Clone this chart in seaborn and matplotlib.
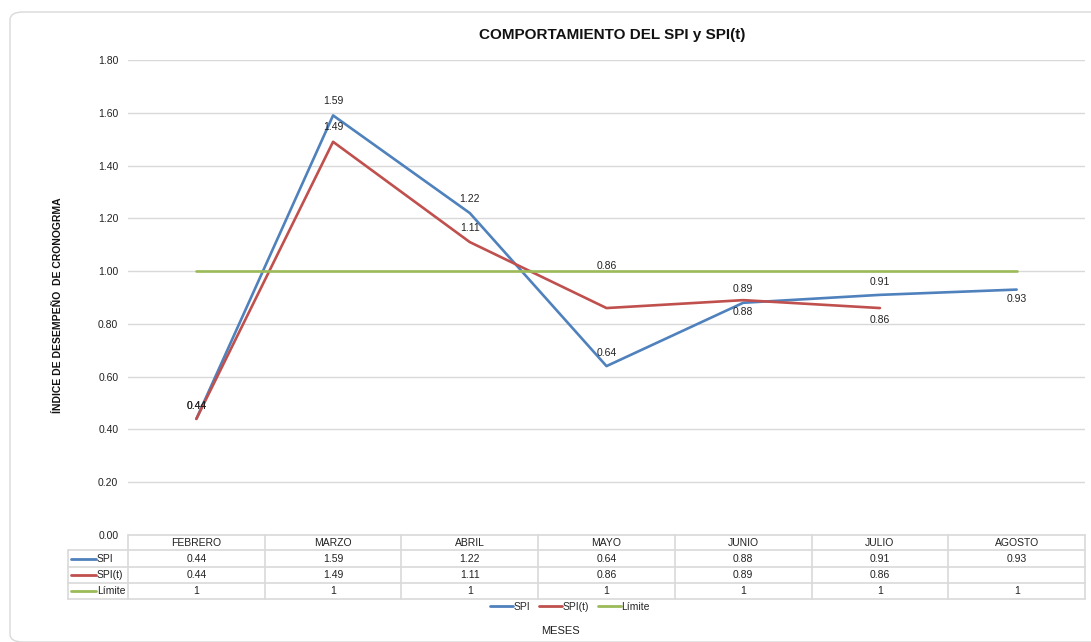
import pandas as pd
import matplotlib
matplotlib.use("Agg")
import matplotlib.pyplot as plt
from matplotlib.patches import FancyBboxPatch
from matplotlib.lines import Line2D
import seaborn as sns
import numpy as np

meses = ["FEBRERO", "MARZO", "ABRIL", "MAYO", "JUNIO", "JULIO", "AGOSTO"]
spi = [0.44, 1.59, 1.22, 0.64, 0.88, 0.91, 0.93]
spi_t = [0.44, 1.49, 1.11, 0.86, 0.89, 0.86, np.nan]
limite = [1, 1, 1, 1, 1, 1, 1]

series = ["SPI", "SPI(t)", "Límite"]
colores = {"SPI": "#4f81bd", "SPI(t)": "#c0504d", "Límite": "#9bbb59"}

# label offsets in pixels (dy) for each data label
off_spi = [13, 14, 14, 13, -9, 13, -9]
off_spit = [13, 15, 14, 42, 11, -12, 0]

df = pd.DataFrame({"mes": meses, "SPI": spi, "SPI(t)": spi_t, "Límite": limite})
largo = df.melt(id_vars="mes", var_name="serie", value_name="valor").dropna()

sns.set_style("white")
plt.rcParams["font.family"] = ["Liberation Sans", "DejaVu Sans"]

W, H = 1091, 642
fig = plt.figure(figsize=(W / 100, H / 100), dpi=100)

# outer rounded border
fig.patches.append(FancyBboxPatch((10 / W, 0), 1.2, (H - 12) / H, boxstyle="round,pad=0,rounding_size=0.012",
                                  transform=fig.transFigure, facecolor="white", edgecolor="#d9d9d9", lw=1, zorder=-1))

x0, x1, ytop, ybot = 128, 1085, 60, 535
ax = fig.add_axes([x0 / W, 1 - ybot / H, (x1 - x0) / W, (ybot - ytop) / H])
ax.patch.set_alpha(0)

sns.lineplot(data=largo, x="mes", y="valor", hue="serie", palette=colores, hue_order=series,
             linewidth=1.9, sort=False, ax=ax, legend=False)

ax.set_xlim(-0.5, 6.5)
ax.set_ylim(0, 1.8)
ax.set_yticks(np.arange(0, 1.81, 0.2))
ax.set_yticklabels([f"{v:.2f}" for v in np.arange(0, 1.81, 0.2)], fontsize=7.5, color="#222222")
ax.set_xticks([])
ax.set_xlabel("")
ax.set_ylabel("")
ax.tick_params(axis="y", length=0, pad=7)
ax.yaxis.grid(True, color="#d9d9d9", lw=1)
for s in ax.spines.values():
    s.set_visible(False)

for i, v in enumerate(spi):
    ax.annotate(f"{v:.2f}", (i, v), xytext=(0, off_spi[i]), textcoords="offset pixels",
                ha="center", va="center", fontsize=7.5, color="#222222")
for i, v in enumerate(spi_t):
    if not np.isnan(v):
        ax.annotate(f"{v:.2f}", (i, v), xytext=(0, off_spit[i]), textcoords="offset pixels",
                    ha="center", va="center", fontsize=7.5, color="#222222")

# data table under the plot
def fx(px):
    return px / W

def fy(py):
    return 1 - py / H

grid_c = "#d9d9d9"
col_w = (x1 - x0) / len(meses)
rows_y = [535, 550, 567, 583, 599]
for yy in rows_y:
    xs = x0 if yy == 535 else 68
    fig.add_artist(Line2D([fx(xs), fx(x1)], [fy(yy), fy(yy)], color=grid_c, lw=1.2))
for k in range(len(meses) + 1):
    xx = x0 + k * col_w
    fig.add_artist(Line2D([fx(xx), fx(xx)], [fy(535), fy(599)], color=grid_c, lw=1.2))
fig.add_artist(Line2D([fx(68), fx(68)], [fy(550), fy(599)], color=grid_c, lw=1.2))

for k, m in enumerate(meses):
    cx = x0 + (k + 0.5) * col_w
    fig.text(fx(cx), fy(542.5), m, ha="center", va="center", fontsize=7.5, color="#222222")
    vals = [spi[k], spi_t[k], limite[k]]
    for r, v in enumerate(vals):
        if isinstance(v, float) and np.isnan(v):
            continue
        txt = f"{v:.2f}" if r < 2 else f"{v}"
        fig.text(fx(cx), fy((rows_y[r + 1] + rows_y[r + 2]) / 2), txt, ha="center", va="center",
                 fontsize=7.5, color="#222222")

for r, s in enumerate(series):
    yc = fy((rows_y[r + 1] + rows_y[r + 2]) / 2)
    fig.add_artist(Line2D([fx(71), fx(96)], [yc, yc], color=colores[s], lw=2))
    fig.text(fx(97), yc, s, ha="left", va="center", fontsize=7.5, color="#222222")

handles = [Line2D([], [], color=colores[s], lw=2) for s in series]
fig.legend(handles, series, loc="center", bbox_to_anchor=(fx(570), fy(607)), ncol=3, frameon=False,
           fontsize=7.5, handlelength=2.2, handletextpad=0.1, columnspacing=0.8)

fig.text(fx(560), fy(631), "MESES", ha="center", va="center", fontsize=8, color="#222222")
fig.text(fx(58), fy(305), "ÍNDICE DE DESEMPEÑO  DE CRONOGRMA", rotation=90, ha="center", va="center",
         fontsize=7.5, fontweight="bold", color="#111111")
fig.text(fx(612), fy(35), "COMPORTAMIENTO DEL SPI y SPI(t)", ha="center", va="center",
         fontsize=11, fontweight="bold", color="#111111")

fig.savefig("out.png", dpi=100)
